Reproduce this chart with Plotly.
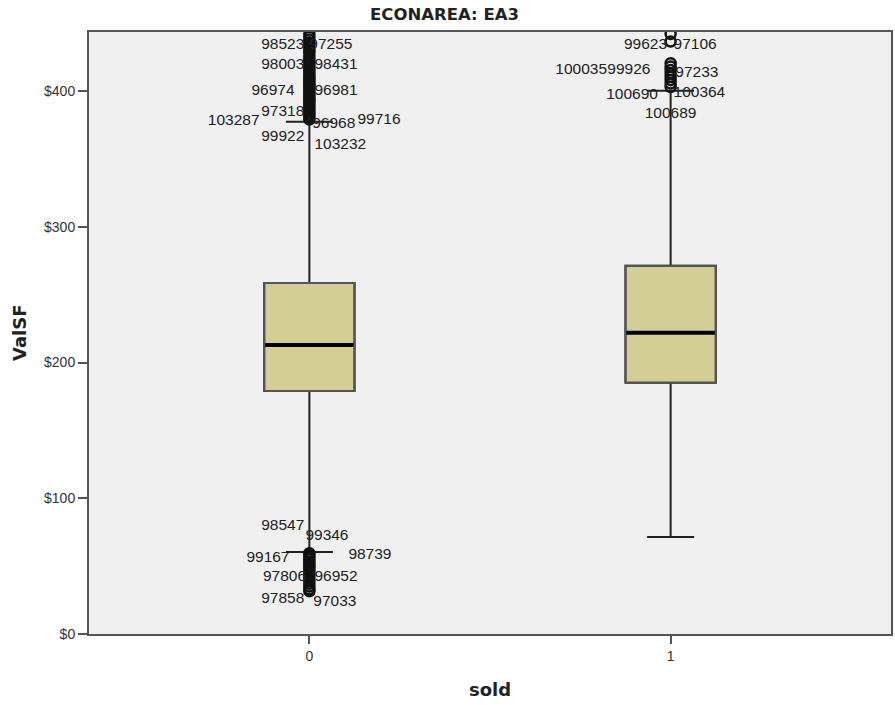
import plotly.graph_objects as go

# ---------------- data ----------------
categories = [0, 1]
category_labels = ["0", "1"]
y_tick_vals = [0, 100, 200, 300, 400]
y_tick_text = ["$0", "$100", "$200", "$300", "$400"]
q1 = [179.0, 185.1]
median = [212.9, 222.0]
q3 = [258.6, 271.3]
lower_fence = [60.4, 71.5]
upper_fence = [377.4, 400.2]

# outliers
outliers_0 = [379, 380.5, 382, 383.5, 385, 386.5, 388, 389.5, 391, 392.5, 394,
              395.5, 397, 398.5, 400, 401.5, 403, 404.5, 406, 407.5, 409, 410.5,
              412, 413.5, 415, 416.5, 418, 419.5, 421, 422.5, 424, 426, 428, 430,
              432, 434, 436, 438, 440, 442, 444,
              59.5, 58, 56.5, 55, 53.5, 52, 50.5, 49, 47.5, 46, 44.5, 43, 41,
              39, 37, 35, 33, 31.5]
outliers_1 = [403, 405.5, 408, 410.5, 413, 415.5, 418, 420.5, 436.5, 442, 445]

# case-id labels: (category, id, value, horizontal nudge, side)
label_cat = [0, 0, 0, 0, 0, 0, 0, 0, 0, 0, 0, 0, 0, 0, 0, 0, 0, 0, 0, 0,
             1, 1, 1, 1, 1, 1, 1, 1]
label_ids = ["98523", "97255", "98003", "98431", "96974", "96981", "97318",
             "103287", "99716", "96968", "99922", "103232",
             "98547", "99346", "99167", "98739", "97806", "96952", "97858", "97033",
             "99623", "97106", "100035", "99926", "97233", "100690", "100364", "100689"]
label_val = [433.9, 433.9, 419.3, 419.3, 399.6, 399.6, 384.7,
             378.0, 378.8, 375.8, 366.2, 359.8,
             79.6, 72.2, 55.8, 58.2, 41.8, 42.2, 25.6, 23.8,
             433.5, 433.5, 415.6, 415.6, 413.2, 397.2, 398.4, 383.0]
label_dx = [-0.014, 0.0, -0.014, 0.014, -0.041, 0.014, -0.014,
            -0.138, 0.133, 0.008, -0.014, 0.014,
            -0.014, -0.011, -0.055, 0.108, -0.009, 0.014, -0.014, 0.011,
            -0.010, 0.008, -0.176, -0.056, 0.013, -0.035, 0.008, 0.0]
label_side = ["L", "R", "L", "R", "L", "R", "L",
              "L", "R", "R", "L", "R",
              "L", "R", "L", "R", "L", "R", "L", "R",
              "L", "R", "L", "L", "R", "L", "R", "C"]

# ---------------- figure ----------------
fig = go.Figure()

BOX_FILL = "#D3CE96"
BOX_WIDTH = 0.25

fig.add_trace(go.Box(
    x=categories, q1=q1, median=median, q3=q3,
    lowerfence=lower_fence, upperfence=upper_fence,
    fillcolor=BOX_FILL,
    line=dict(color="#222222", width=2),
    width=BOX_WIDTH, whiskerwidth=0.52,
    boxpoints=False, showlegend=False, hoverinfo="skip",
))

# thicker median line
for c, m in zip(categories, median):
    fig.add_trace(go.Scatter(
        x=[c - BOX_WIDTH / 2, c + BOX_WIDTH / 2], y=[m, m],
        mode="lines", line=dict(color="black", width=4),
        showlegend=False, hoverinfo="skip",
    ))

# box borders (greyish) redrawn
for c, a, b in zip(categories, q1, q3):
    fig.add_trace(go.Scatter(
        x=[c - BOX_WIDTH / 2, c + BOX_WIDTH / 2, c + BOX_WIDTH / 2, c - BOX_WIDTH / 2, c - BOX_WIDTH / 2],
        y=[a, a, b, b, a], mode="lines", line=dict(color="#555555", width=2),
        showlegend=False, hoverinfo="skip",
    ))

fig.add_trace(go.Scatter(
    x=[0] * len(outliers_0) + [1] * len(outliers_1),
    y=outliers_0 + outliers_1,
    mode="markers",
    marker=dict(symbol="circle-open", size=10, color="#111111", line=dict(width=2.5)),
    showlegend=False, hoverinfo="skip", cliponaxis=True,
))

pos_map = {"L": "middle left", "R": "middle right", "C": "middle center"}
fig.add_trace(go.Scatter(
    x=[c + d for c, d in zip(label_cat, label_dx)],
    y=label_val,
    text=label_ids,
    mode="text",
    textposition=[pos_map[s] for s in label_side],
    textfont=dict(family="Liberation Sans, Arial, sans-serif", size=15.5, color="#222222"),
    showlegend=False, hoverinfo="skip", cliponaxis=False,
))

fig.update_layout(
    width=895, height=705,
    margin=dict(l=89, r=2, t=32, b=71),
    paper_bgcolor="white",
    plot_bgcolor="#F0F0F0",
    showlegend=False,
    xaxis=dict(
        range=[-0.61, 1.61], tickvals=categories, ticktext=category_labels,
        showgrid=False, zeroline=False,
        showline=True, mirror=True, linecolor="#555555", linewidth=2,
        ticks="outside", ticklen=8, tickwidth=2, tickcolor="#555555",
        tickfont=dict(family="Liberation Sans, Arial, sans-serif", size=14, color="#333333"),
    ),
    yaxis=dict(
        range=[0, 443.5], tickmode="array", tickvals=y_tick_vals, ticktext=y_tick_text,
        showgrid=False, zeroline=False,
        showline=True, mirror=True, linecolor="#555555", linewidth=2,
        ticks="outside", ticklen=9, tickwidth=2, tickcolor="#555555",
        tickfont=dict(family="Liberation Sans, Arial, sans-serif", size=14, color="#333333"),
    ),
    annotations=[
        dict(text="<b>ECONAREA: EA3</b>", xref="paper", yref="paper",
             x=(445 - 89) / (895 - 89 - 2), y=1, yshift=18, xanchor="center", yanchor="middle",
             showarrow=False, font=dict(family="DejaVu Sans", size=16.5, color="#222222")),
        dict(text="<b>ValSF</b>", xref="paper", yref="paper",
             x=0, xshift=-70, y=(634 - 333) / 602, xanchor="center", yanchor="middle",
             textangle=-90, showarrow=False,
             font=dict(family="DejaVu Sans", size=18, color="#222222")),
        dict(text="<b>sold</b>", xref="paper", yref="paper",
             x=(491 - 89) / (895 - 89 - 2), y=0, yshift=-55, xanchor="center", yanchor="middle",
             showarrow=False, font=dict(family="DejaVu Sans", size=18, color="#222222")),
    ],
)

fig.write_html("out.html", config={"displayModeBar": False},
               post_script="document.body.style.margin='0';document.body.style.overflow='hidden';")
